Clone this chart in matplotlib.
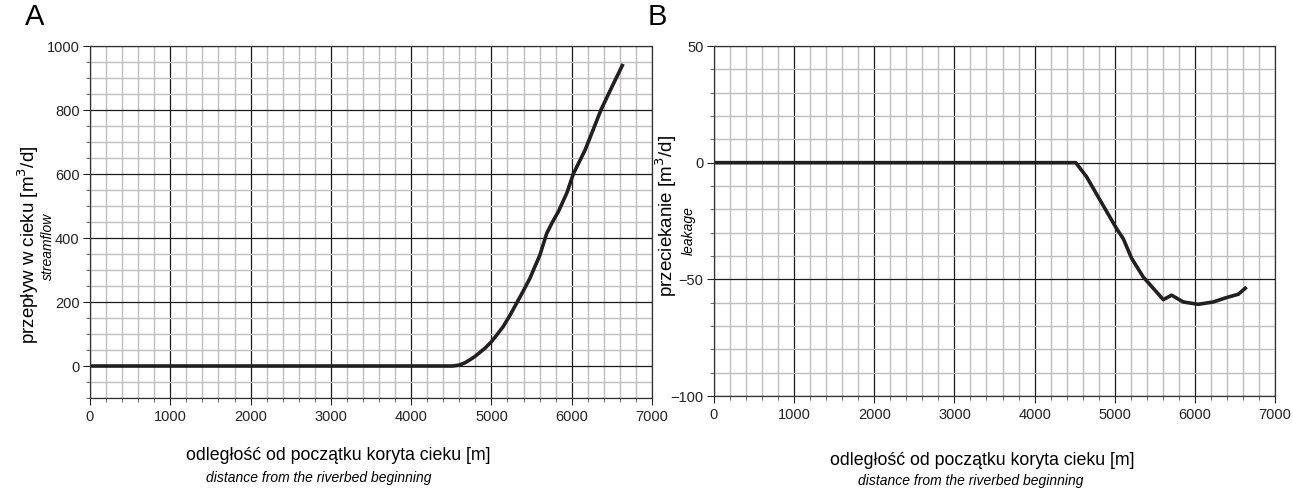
import matplotlib
matplotlib.use('Agg')
import matplotlib.pyplot as plt
from matplotlib.ticker import MultipleLocator

plt.rcParams['font.family'] = ['Liberation Sans', 'DejaVu Sans']

# A: streamflow along the riverbed
dist_a = [0, 1000, 2000, 3000, 4000, 4520, 4600, 4670, 4729, 4790, 4854, 4930, 5000, 5070,
          5146, 5230, 5313, 5400, 5479, 5604, 5688, 5760, 5833, 5938, 6021, 6167,
          6364, 6500, 6640]
flow_a = [0, 0, 0, 0, 0, 0, 3, 10, 19, 29, 42, 58, 76, 98,
          123, 158, 196, 236, 274, 347, 414, 450, 482, 540, 601, 675,
          800, 872, 944]

# B: leakage
dist_b = [0, 1000, 2000, 3000, 4000, 4514, 4648, 4816, 5024, 5107, 5211, 5356, 5606,
          5710, 5855, 6042, 6230, 6396, 6542, 6646]
leak_b = [0, 0, 0, 0, 0, 0, -6, -16, -28.3, -32.6, -41, -49, -58.7,
          -56.8, -59.7, -60.7, -59.7, -57.8, -56.4, -53.3]

W, H = 1293, 490
fig = plt.figure(figsize=(W / 100, H / 100), dpi=100)


def make_ax(left, right, top, bottom):
    return fig.add_axes([left / W, 1 - bottom / H, (right - left) / W, (bottom - top) / H])


def style(ax, ymaj, ymin):
    ax.set_xlim(0, 7000)
    ax.xaxis.set_major_locator(MultipleLocator(1000))
    ax.xaxis.set_minor_locator(MultipleLocator(200))
    ax.yaxis.set_major_locator(MultipleLocator(ymaj))
    ax.yaxis.set_minor_locator(MultipleLocator(ymin))
    ax.grid(which='minor', color='#bdbdbd', lw=1.0)
    ax.grid(which='major', color='#1a1a1a', lw=0.9)
    ax.set_axisbelow(True)
    ax.tick_params(which='major', direction='out', length=5, width=0.8, labelsize=10.5,
                   colors='#222222')
    ax.tick_params(axis='y', which='major', pad=2.5)
    ax.tick_params(which='minor', direction='out', length=3, width=0.6, colors='#555555')
    for s in ax.spines.values():
        s.set_color('#333333')
        s.set_linewidth(0.9)


ax1 = make_ax(90, 652, 46, 398)
ax1.plot(dist_a, flow_a, color='#231f20', lw=2.6, solid_capstyle='butt')
ax1.set_ylim(-100, 1000)
style(ax1, 200, 50)

ax2 = make_ax(714, 1275, 46, 396)
ax2.plot(dist_b, leak_b, color='#231f20', lw=2.6, solid_capstyle='butt')
ax2.set_ylim(-100, 50)
style(ax2, 50, 10)

fig.text(25 / W, 1 - 17 / H, 'A', fontsize=21, va='center', ha='left')
fig.text(648 / W, 1 - 17 / H, 'B', fontsize=21, va='center', ha='left')

fig.text(28 / W, 1 - 245 / H, 'przepływ w cieku [m$^3$/d]', rotation=90,
         fontsize=13.5, ha='center', va='center')
fig.text(48 / W, 1 - 246 / H, 'streamflow', rotation=90, style='italic',
         fontsize=10, ha='center', va='center')
fig.text(666 / W, 1 - 216 / H, 'przeciekanie [m$^3$/d]', rotation=90,
         fontsize=13.5, ha='center', va='center')
fig.text(689 / W, 1 - 231 / H, 'leakage', rotation=90, style='italic',
         fontsize=10, ha='center', va='center')

fig.text(338 / W, 1 - 455 / H, 'odległość od początku koryta cieku [m]',
         fontsize=12.8, ha='center', va='center')
fig.text(319 / W, 1 - 478 / H, 'distance from the riverbed beginning',
         fontsize=10, style='italic', ha='center', va='center')
fig.text(982 / W, 1 - 460 / H, 'odległość od początku koryta cieku [m]',
         fontsize=12.8, ha='center', va='center')
fig.text(971 / W, 1 - 481 / H, 'distance from the riverbed beginning',
         fontsize=10, style='italic', ha='center', va='center')

fig.savefig('out.png', dpi=100)
